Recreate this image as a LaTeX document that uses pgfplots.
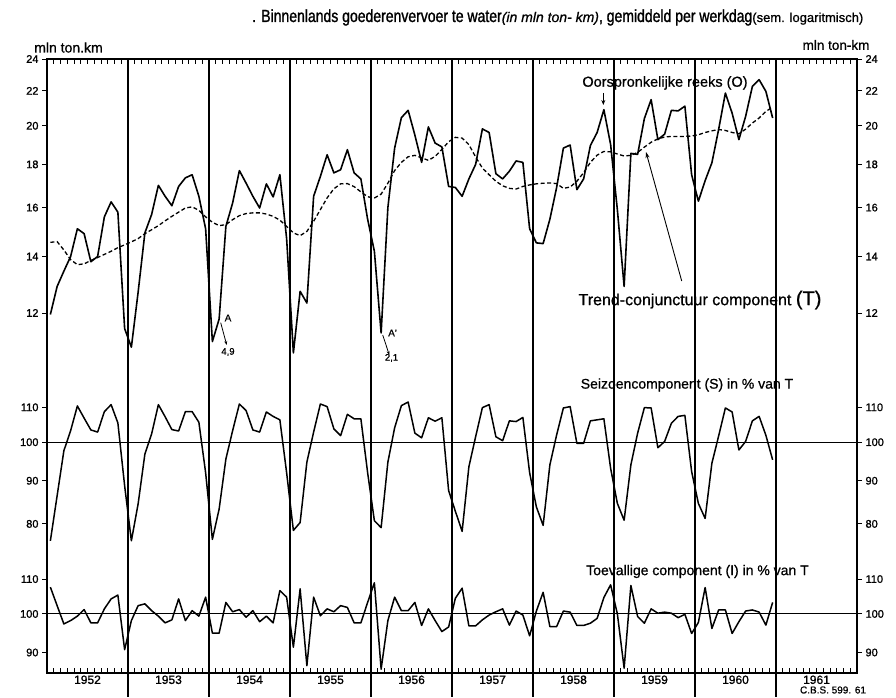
\documentclass[border=0pt]{standalone}
\usepackage{fontspec}
\setmainfont{Liberation Sans}
\newfontfamily\hand{Liberation Sans}[FakeStretch=0.8, FakeBold=1.2]
\newfontfamily\plainsans{Liberation Sans}[FakeBold=0.8]
\newfontfamily\ticksans{Liberation Sans}[FakeBold=1.2]
\usepackage{pgfplots}
\pgfplotsset{compat=1.18}
\usepackage{pgfplotstable}
\usetikzlibrary{arrows.meta}

\pgfplotstableread{
m O T S I
0 11.95 14.55 76.4 107.6
1 12.9 14.58 86.4 102.3
2 13.45 14.25 97.7 97.3
3 14.0 13.88 103.2 98.2
4 15.1 13.69 110.4 99.4
5 14.9 13.72 106.8 101.2
6 13.8 13.85 103.4 97.6
7 14.0 13.96 102.8 97.6
8 15.6 14.08 108.7 101.4
9 16.25 14.2 110.8 104.2
10 15.8 14.34 105.4 105.3
11 11.5 14.45 88.8 90.7
12 10.93 14.57 76.4 98.2
13 12.7 14.7 84.5 102.3
14 14.93 14.9 96.8 102.8
15 15.7 15.06 102.3 100.9
16 17.0 15.23 110.8 99.4
17 16.5 15.43 107.2 97.6
18 16.08 15.62 103.5 98.4
19 16.95 15.8 103.1 104.2
20 17.35 15.98 108.7 98.2
21 17.5 16.03 108.7 100.9
22 16.5 15.88 105.6 99.4
23 15.1 15.6 92.0 104.7
24 11.1 15.37 76.7 94.9
25 11.8 15.23 83.3 94.9
26 15.2 15.27 95.5 103.2
27 16.2 15.48 103.2 100.6
28 17.7 15.65 111.0 101.2
29 17.1 15.74 109.0 99.1
30 16.5 15.77 103.4 100.9
31 15.98 15.77 102.8 97.9
32 17.07 15.72 108.6 99.4
33 16.47 15.62 107.3 97.6
34 17.5 15.46 106.3 106.6
35 14.7 15.2 92.0 104.7
36 10.76 14.93 78.6 91.3
37 12.73 14.82 80.3 107.1
38 12.33 14.99 94.7 86.8
39 16.5 15.41 102.8 104.7
40 17.42 15.91 111.0 99.5
41 18.48 16.43 110.2 101.4
42 17.59 16.84 103.7 100.6
43 17.74 17.07 101.8 102.3
44 18.74 17.08 107.9 101.8
45 17.59 16.94 106.6 97.6
46 17.3 16.7 106.6 97.6
47 15.5 16.48 92.0 103.2
48 14.2 16.42 80.7 108.9
49 11.36 16.6 79.2 86.0
50 16.0 17.1 94.7 98.2
51 18.82 17.7 104.0 104.7
52 20.45 18.1 110.5 100.9
53 20.86 18.38 111.6 100.9
54 19.5 18.45 102.5 103.2
55 18.1 18.33 101.2 96.9
56 19.94 18.2 106.9 101.4
57 19.08 18.4 105.9 98.2
58 18.88 18.75 106.9 95.3
59 16.95 19.15 87.6 96.5
60 16.9 19.38 82.8 104.4
61 16.5 19.34 78.4 107.3
62 17.3 19.0 93.5 96.8
63 18.0 18.37 101.5 96.8
64 19.83 17.82 109.9 98.4
65 19.64 17.5 110.8 99.7
66 17.55 17.19 101.5 100.6
67 17.3 16.98 100.4 101.4
68 17.67 16.86 106.0 97.0
69 18.17 16.83 105.8 100.8
70 18.1 16.95 107.0 99.7
71 15.1 17.02 92.0 94.2
72 14.53 17.07 83.8 100.8
73 14.5 17.1 79.7 106.1
74 15.5 17.11 94.0 96.6
75 16.9 17.08 102.0 96.6
76 18.82 16.86 109.8 100.8
77 18.98 16.92 110.2 100.5
78 16.8 17.19 99.7 96.9
79 17.3 17.6 99.7 96.9
80 18.95 18.1 106.0 97.5
81 19.64 18.46 106.3 98.8
82 20.9 18.65 106.6 104.6
83 19.0 18.63 93.1 108.3
84 15.9 18.52 84.6 100.0
85 12.9 18.42 80.8 86.2
86 18.55 18.45 94.0 108.1
87 18.5 18.6 102.5 99.3
88 20.4 18.87 109.9 97.5
89 21.48 19.12 109.8 101.4
90 19.26 19.3 98.5 100.2
91 19.55 19.4 100.2 100.5
92 20.86 19.43 105.3 100.2
93 20.83 19.43 107.3 99.0
94 21.1 19.43 107.6 99.9
95 17.5 19.45 92.3 94.8
96 16.28 19.52 84.6 97.7
97 17.22 19.64 81.2 107.5
98 18.08 19.73 94.4 96.1
99 19.8 19.8 101.7 101.1
100 21.87 19.75 109.8 101.1
101 20.7 19.64 108.6 94.8
102 19.26 19.57 97.9 97.9
103 20.52 19.82 100.2 100.8
104 22.27 20.15 106.0 101.1
105 22.68 20.43 107.3 100.5
106 21.97 20.8 101.9 97.0
107 20.43 21.05 95.3 103.2
}\data

\pgfplotsset{
  cbsbase/.style={scale only axis, width=810pt, xmin=0, xmax=120,
    axis line style={draw=none}, anchor=north west},
  cbspanel/.style={cbsbase, xtick=\empty, tick align=outside,
    major tick length=5pt, tick style={black, line width=0.9pt},
    yticklabel style={font=\ticksans\fontsize{11}{11}\selectfont}},
  cbsleft/.style={cbspanel, ytick pos=left, yticklabel pos=left},
  cbsright/.style={cbspanel, ytick pos=right, yticklabel pos=right},
  cbsx/.style={cbsbase, ymin=0, ymax=1, ytick=\empty, xtick={0,12,...,120},
    xticklabels={}, minor x tick num=11, tick align=inside,
    major tick length=5pt, minor tick length=5pt,
    tick style={black, line width=0.8pt}},
}

\begin{document}
\begin{tikzpicture}[x=1pt,y=1pt]
\path[use as bounding box] (0,0) rectangle (896,698);

% ---------- top panel ----------
\begin{axis}[cbsleft, ymode=log, at={(47pt,639pt)}, height=311pt, ymin=10.27, ymax=24,
  ytick={12,14,16,18,20,22,24}, yticklabels={12,14,16,18,20,22,24}]
  \addplot[black, line width=1.6pt, line join=round] table[x expr=\thisrow{m}+0.5, y=O]{\data};
  \addplot[black, line width=1.3pt, dash pattern=on 4pt off 2.5pt] table[x expr=\thisrow{m}+0.5, y=T]{\data};
\end{axis}
\begin{axis}[cbsright, ymode=log, at={(47pt,639pt)}, height=311pt, ymin=10.27, ymax=24,
  ytick={12,14,16,18,20,22,24}, yticklabels={12,14,16,18,20,22,24}]
\end{axis}
\begin{axis}[cbsx, at={(47pt,639pt)}, height=311pt, xtick pos=right]
\end{axis}

% ---------- middle panel ----------
\begin{axis}[cbsleft, ymode=log, at={(47pt,328pt)}, height=190pt, ymin=72.5, ymax=121.8,
  ytick={80,90,100,110}, yticklabels={80,90,100,110}]
  \addplot[black, line width=1pt] coordinates {(0,100) (120,100)};
  \addplot[black, line width=1.5pt, line join=round] table[x expr=\thisrow{m}+0.5, y=S]{\data};
\end{axis}
\begin{axis}[cbsright, ymode=log, at={(47pt,328pt)}, height=190pt, ymin=72.5, ymax=121.8,
  ytick={80,90,100,110}, yticklabels={80,90,100,110}]
\end{axis}

% ---------- bottom panel ----------
\begin{axis}[cbsleft, ymode=log, at={(47pt,138pt)}, height=113pt, ymin=85.1, ymax=115.9,
  ytick={90,100,110}, yticklabels={90,100,110}]
  \addplot[black, line width=1pt] coordinates {(0,100) (120,100)};
  \addplot[black, line width=1.5pt, line join=round] table[x expr=\thisrow{m}+0.5, y=I]{\data};
\end{axis}
\begin{axis}[cbsright, ymode=log, at={(47pt,138pt)}, height=113pt, ymin=85.1, ymax=115.9,
  ytick={90,100,110}, yticklabels={90,100,110}]
\end{axis}
\begin{axis}[cbsx, at={(47pt,138pt)}, height=113pt, xtick pos=left,
  extra x ticks={6,18,...,114},
  extra x tick labels={1952,1953,1954,1955,1956,1957,1958,1959,1960,1961},
  extra x tick style={major tick length=0pt,
    tick label style={font=\ticksans\fontsize{12}{12}\selectfont, yshift=1pt}}]
\end{axis}

% frame and year lines
\draw[line width=1.3pt] (47,25) rectangle (857,639);
\foreach \k in {1,...,9} \draw[line width=1.2pt] ({47+81*\k},1) -- ({47+81*\k},639);

% texts
\node[anchor=base west, inner sep=0pt] at (252,676)
  {\hand\fontsize{17.5}{17.5}\selectfont . Binnenlands goederenvervoer te water{\plainsans\fontsize{14}{14}\selectfont\itshape(in mln ton- km)}, gemiddeld per werkdag{\plainsans\fontsize{13}{13}\selectfont(sem. logaritmisch)}};
\node[font=\plainsans\fontsize{14}{14}\selectfont] at (68.5,650.5) {mln ton.km};
\node[font=\plainsans\fontsize{13.5}{13.5}\selectfont] at (836,653) {mln ton-km};
\node[font=\plainsans\fontsize{14.5}{14.5}\selectfont] at (665,615) {Oorspronkelijke reeks (O)};
\draw[line width=0.9pt, -{Stealth[length=5pt,width=4pt]}] (603.3,605) -- (603.3,593);
\node[font=\plainsans\fontsize{16}{16}\selectfont] at (700,398) {Trend-conjunctuur component {\fontsize{20}{20}\selectfont(T)}};
\draw[line width=0.9pt, -{Stealth[length=6pt,width=4pt]}] (681.7,417) -- (646,546);
\node[font=\plainsans\fontsize{14}{14}\selectfont] at (687,313) {Seizoencomponent (S) in \% van T};
\node[font=\plainsans\fontsize{14}{14}\selectfont] at (697.5,126.5) {Toevallige component (I) in \% van T};
\node[font=\plainsans\fontsize{10}{10}\selectfont] at (833,8) {C.B.S. 599. 61};
% ice-month annotations
\node[font=\plainsans\fontsize{10}{10}\selectfont] at (228,380) {A};
\draw[line width=0.8pt, -{Stealth[length=4pt,width=3pt]}] (220.7,375.3) -- (226.7,353);
\node[font=\plainsans\fontsize{9.5}{9.5}\selectfont] at (228,346) {4,9};
\node[font=\plainsans\fontsize{10}{10}\selectfont] at (392.5,365) {A'};
\draw[line width=0.8pt, -{Stealth[length=4pt,width=3pt]}] (382.7,363) -- (389.3,343);
\node[font=\plainsans\fontsize{9.5}{9.5}\selectfont] at (391.5,340) {2,1};
\end{tikzpicture}
\end{document}
